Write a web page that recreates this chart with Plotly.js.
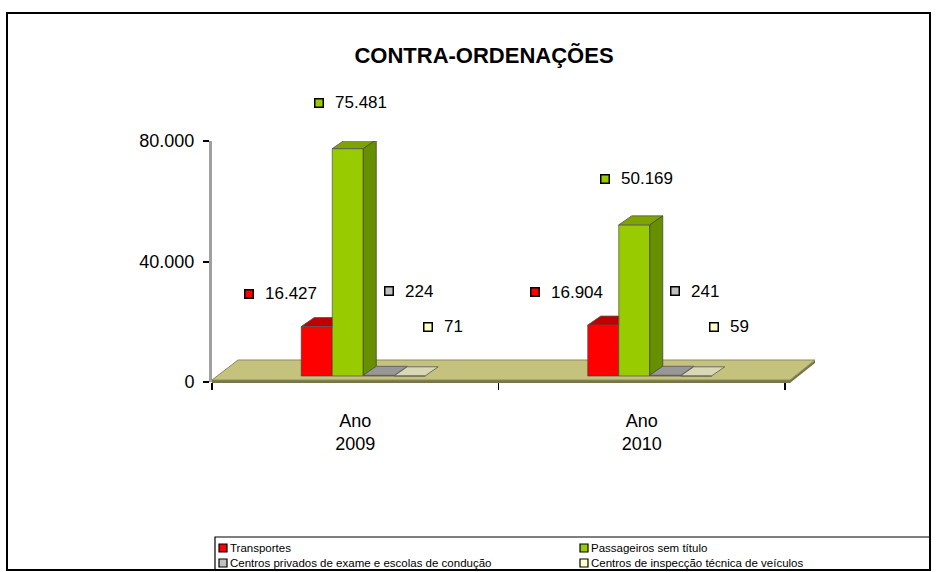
<!DOCTYPE html>
<html>
<head>
<meta charset="utf-8">
<script src="https://cdn.plot.ly/plotly-3.0.1.min.js"></script>
<style>
  body { margin: 0; background: #fff; }
  #plot { width: 938px; height: 572px; }
</style>
</head>
<body>
<div id="plot"></div>
<script>
// data
const years = ['Ano<br>2009', 'Ano<br>2010'];
const seriesNames = [
  'Transportes',
  'Passageiros sem título',
  'Centros privados de exame e escolas de condução',
  'Centros de inspecção técnica de veículos'
];
const transportes = [16427, 16904];
const passageiros = [75481, 50169];
const centrosPrivados = [224, 241];
const centrosInspeccao = [71, 59];
const yTicks = [0, 40000, 80000];

const allSeries = [transportes, passageiros, centrosPrivados, centrosInspeccao];

// colours for front / top / side faces and label keys
const frontColors = ['#FF0000', '#99CC00', '#A6A6A6', '#FFFFCC'];
const topColors = ['#C00000', '#7FA300', '#979797', '#D8D8B4'];
const sideColors = ['#A80000', '#678F00', '#777777', '#B0B090'];
const keyColors = ['#FF0000', '#99CC00', '#C0C0C0', '#FFFFCC'];

// plot box in pixels
const L = 212, T = 141, W = 573, H = 241;
const px = (x) => (x - L) / W;
const py = (y) => (T + H - y) / H;

const yMax = 80000;
const unitsPerPx = yMax / H;
const catPx = W / 2;
const bargap = 0.567;
const barW = (1 - bargap) / 4;
// fake 3d depth
const depthX = 13 / catPx;
const depthY = 9 * unitsPerPx;

const fmt = (v) => v.toString().replace(/\B(?=(\d{3})+(?!\d))/g, '.');

// invisible trace so the visible axes get drawn
let traces = [{
  type: 'scatter', mode: 'markers', x: [0, 1], y: [0, 0],
  marker: { opacity: 0 }, showlegend: false, hoverinfo: 'skip'
}];

allSeries.forEach((vals, i) => {
  traces.push({
    type: 'bar',
    x: [0, 1],
    y: vals,
    name: seriesNames[i],
    xaxis: 'x2',
    yaxis: 'y2',
    marker: { color: frontColors[i], line: { color: 'rgba(60,60,60,0.6)', width: 1 } },
    showlegend: false,
    hoverinfo: 'y'
  });
});

// top and side faces
allSeries.forEach((vals, i) => {
  let tx = [], ty = [], sx = [], sy = [];
  vals.forEach((v, j) => {
    const left = j - (1 - bargap) / 2 + i * barW;
    const right = left + barW;
    const next = i < allSeries.length - 1 ? allSeries[i + 1][j] : 0;
    if (next > v) {
      tx.push(left, right, right, left + depthX, left, null);
      ty.push(v, v, v + depthY, v + depthY, v, null);
    } else {
      tx.push(left, right, right + depthX, left + depthX, left, null);
      ty.push(v, v, v + depthY, v + depthY, v, null);
      if (v > 1000) {
        sx.push(right, right, right + depthX, right + depthX, right, null);
        sy.push(next, v, v + depthY, next + depthY, next, null);
      }
    }
  });
  traces.push({
    type: 'scatter', mode: 'lines', x: tx, y: ty, xaxis: 'x2', yaxis: 'y2',
    fill: 'toself', fillcolor: topColors[i], line: { color: '#555', width: 0.8 },
    showlegend: false, hoverinfo: 'skip'
  });
  if (sx.length) {
    traces.push({
      type: 'scatter', mode: 'lines', x: sx, y: sy, xaxis: 'x2', yaxis: 'y2',
      fill: 'toself', fillcolor: sideColors[i], line: { color: '#444', width: 0.8 },
      showlegend: false, hoverinfo: 'skip'
    });
  }
});

// data labels: key square + number, offset per series (px)
const labelDx = [-68, -29, 10, 18];
const labelDy = [33, 46, 84, 49];
let annotations = [];
allSeries.forEach((vals, i) => {
  vals.forEach((v, j) => {
    const cx = j - (1 - bargap) / 2 + (i + 0.5) * barW;
    annotations.push({
      xref: 'x2', yref: 'y2', x: cx, y: v, text: ' ', showarrow: false,
      width: 7, height: 7, borderpad: 0, bgcolor: keyColors[i],
      bordercolor: '#000', borderwidth: 1.5,
      xshift: labelDx[i], yshift: labelDy[i]
    });
    annotations.push({
      xref: 'x2', yref: 'y2', x: cx, y: v, text: fmt(v), showarrow: false,
      xanchor: 'left', yanchor: 'middle',
      font: { size: 17, color: '#000' },
      xshift: labelDx[i] + 14, yshift: labelDy[i]
    });
  });
});

let shapes = [
  // outer frame
  { type: 'rect', xref: 'paper', yref: 'paper', x0: px(7), x1: px(930), y0: py(570), y1: py(13),
    line: { color: '#000', width: 2 }, fillcolor: 'rgba(0,0,0,0)', layer: 'below' },
  // legend box
  { type: 'rect', xref: 'paper', yref: 'paper', x0: px(215), x1: px(930), y0: py(570), y1: py(537),
    line: { color: '#000', width: 1.2 }, fillcolor: 'rgba(0,0,0,0)' },
  // floor thickness
  { type: 'path', xref: 'paper', yref: 'paper', layer: 'below',
    path: `M${px(212)},${py(383)} L${px(790)},${py(383)} L${px(815)},${py(363)} L${px(815)},${py(360)} L${px(790)},${py(380)} L${px(212)},${py(380)} Z`,
    fillcolor: '#77754C', line: { width: 0 } },
  // floor
  { type: 'path', xref: 'paper', yref: 'paper', layer: 'below',
    path: `M${px(212)},${py(380)} L${px(790)},${py(380)} L${px(815)},${py(360)} L${px(238)},${py(360)} Z`,
    fillcolor: '#C4C27C', line: { color: '#8C8A5C', width: 1 } }
];

// hand made legend
const legendPos = [[223, 548], [584, 548], [223, 563], [584, 563]];
seriesNames.forEach((name, i) => {
  const [lx, ly] = legendPos[i];
  shapes.push({
    type: 'rect', xref: 'paper', yref: 'paper',
    x0: px(lx - 4), x1: px(lx + 4), y0: py(ly + 4), y1: py(ly - 4),
    fillcolor: keyColors[i], line: { color: '#000', width: 1.2 }
  });
  annotations.push({
    xref: 'paper', yref: 'paper', x: px(lx + 5), y: py(ly), text: name, showarrow: false,
    xanchor: 'left', yanchor: 'middle', font: { size: 11.5, color: '#000' }
  });
});

let layout = {
  width: 938,
  height: 572,
  margin: { l: L, r: 938 - L - W, t: T, b: 572 - T - H },
  paper_bgcolor: '#FFFFFF',
  plot_bgcolor: 'rgba(0,0,0,0)',
  separators: ',.',
  font: { family: 'Liberation Sans, Arial, sans-serif', color: '#000' },
  showlegend: false,
  barmode: 'group',
  bargap: bargap,
  bargroupgap: 0,
  title: {
    text: '<b>CONTRA-ORDENAÇÕES</b>',
    font: { size: 22, color: '#000' },
    xref: 'container', x: 484 / 938, xanchor: 'center',
    yref: 'container', y: 1 - 55 / 572, yanchor: 'middle'
  },
  xaxis: {
    range: [-0.5, 1.5],
    tickmode: 'array',
    tickvals: [0, 1],
    ticktext: years,
    ticks: '',
    ticklabelstandoff: 26,
    tickfont: { size: 18 },
    showline: false,
    showgrid: false,
    zeroline: false,
    fixedrange: true,
    minor: {
      tickmode: 'array',
      tickvals: [-0.5, 0.5, 1.5],
      ticks: 'outside',
      ticklen: 7,
      tickwidth: 1.5,
      tickcolor: '#000',
      showgrid: false
    }
  },
  yaxis: {
    range: [0, yMax],
    tickmode: 'array',
    tickvals: yTicks,
    tickformat: ',',
    ticks: 'outside',
    ticklen: 6,
    tickwidth: 2,
    tickcolor: '#000',
    ticklabelstandoff: 5,
    tickfont: { size: 18 },
    showline: true,
    linecolor: '#A0A0A0',
    linewidth: 3,
    showgrid: false,
    zeroline: false,
    fixedrange: true
  },
  xaxis2: {
    overlaying: 'x',
    anchor: 'y2',
    range: [-0.5 - 8 / catPx, 1.5 - 8 / catPx],
    visible: false,
    fixedrange: true
  },
  yaxis2: {
    overlaying: 'y',
    anchor: 'x2',
    range: [-6 * unitsPerPx, yMax - 6 * unitsPerPx],
    visible: false,
    fixedrange: true
  },
  shapes: shapes,
  annotations: annotations
};

Plotly.newPlot('plot', traces, layout, { displayModeBar: false, staticPlot: true });
</script>
</body>
</html>
